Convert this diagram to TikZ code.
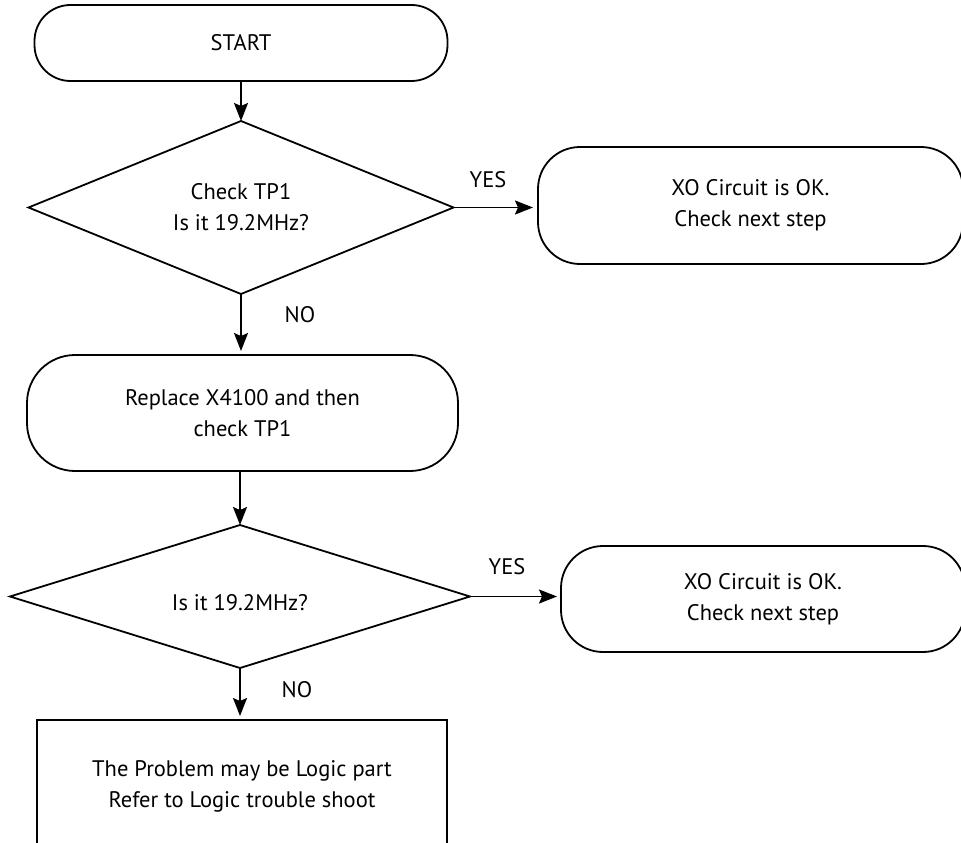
\documentclass[tikz,border=0pt]{standalone}
\usepackage{fontspec}
\setmainfont{PT Sans}
\usetikzlibrary{shapes.geometric,arrows.meta}
\begin{document}
\begin{tikzpicture}[x=1pt,y=-1pt,
  font=\fontsize{22.5}{31}\selectfont,
  every node/.style={inner sep=0pt,outer sep=0pt,align=center},
  box/.style={draw,line width=1.8pt,rectangle},
  pill/.style={box,rounded corners=#1},
  decision/.style={draw,line width=1.8pt,diamond},
  flow/.style={line width=1.8pt,-{Stealth[length=18pt,width=14pt,inset=3pt]}},
  tag/.style={font=\fontsize{22.5}{26}\selectfont}
]
\useasboundingbox (0,0) rectangle (961,843);
\clip (0,0) rectangle (961,843);

% process chain
\node[pill=36pt,minimum width=413pt,minimum height=76pt] (start) at (241,43) {START};
\node[decision,minimum width=425pt,minimum height=173pt] (d1) at (241,207.5) {};
\node (d1t) at (d1.center) {Check TP1\\Is it 19.2MHz?};
\node[pill=42pt,minimum width=425pt,minimum height=117pt] (ok1) at (750.5,205.5)
  {XO Circuit is OK.\\Check next step};
\node[pill=48pt,minimum width=431pt,minimum height=116pt] (repl) at (242.5,413)
  {Replace X4100 and then\\check TP1};
\node[decision,minimum width=460pt,minimum height=143pt] (d2) at (240,596.5) {};
\node (d2t) at ([yshift=-6.5pt]d2.center) {Is it 19.2MHz?};
\node[pill=42pt,minimum width=404pt,minimum height=106pt] (ok2) at (763,599)
  {XO Circuit is OK.\\Check next step};
\node[box,minimum width=410pt,minimum height=132pt] (logic) at (242,786)
  {The Problem may be Logic part\\Refer to Logic trouble shoot};

% connectors
\draw[flow] (start.south -| d1.north) -- (d1.north);
\draw[flow,shorten >=5pt] (d1.east) -- (d1.east -| ok1.west);
\draw[flow,shorten >=4pt] (d1.south) -- (d1.south |- repl.north);
\draw[flow] (d2.north |- repl.south) -- (d2.north);
\draw[flow,shorten >=4pt] (d2.east) -- (d2.east -| ok2.west);
\draw[flow,shorten >=4pt] (d2.south) -- (d2.south |- logic.north);

% branch labels
\node[tag] (y1) at (488,180) {YES};
\node[tag] (n1) at (300,315) {NO};
\node[tag] (y2) at (507,567) {YES};
\node[tag] (n2) at (297,690) {NO};
\end{tikzpicture}
\end{document}
